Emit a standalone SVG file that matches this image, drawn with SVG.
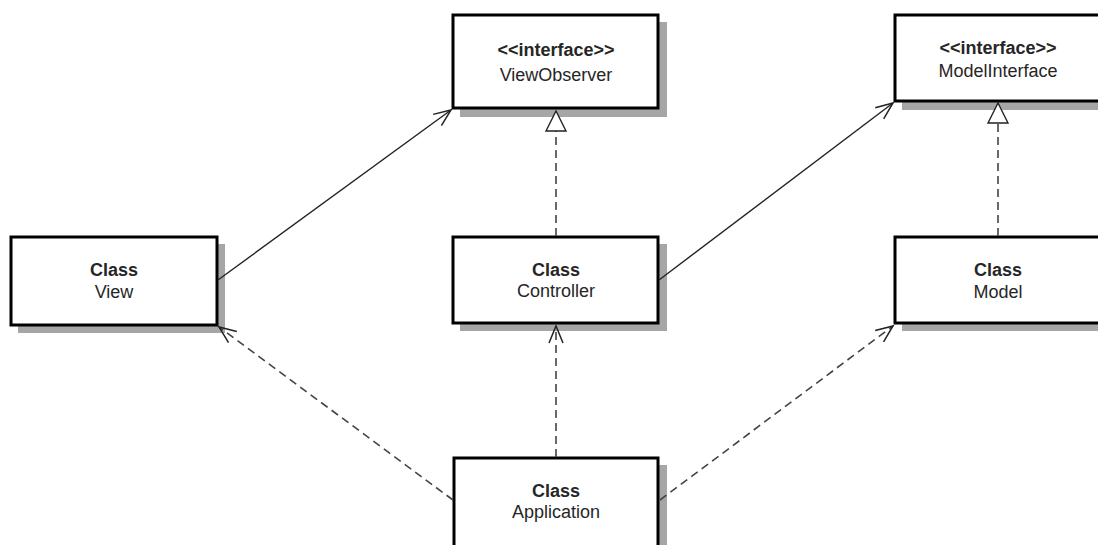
<svg xmlns="http://www.w3.org/2000/svg" width="1098" height="545" viewBox="0 0 1098 545">
  <style>
    .shadow { fill: #a6a6a6; }
    .box { fill: #ffffff; stroke: #000000; stroke-width: 3; }
    .t { font-family: "Liberation Sans", Arial, sans-serif; font-size: 18px; fill: #262626; text-anchor: middle; }
    .b { font-weight: bold; }
    .solid { stroke: #222222; stroke-width: 1.4; fill: none; }
    .dash { stroke: #444444; stroke-width: 1.6; fill: none; stroke-dasharray: 8 5; }
    .tri { fill: #ffffff; stroke: #222222; stroke-width: 1.4; }
  </style>
  <defs>
    <marker id="open" markerUnits="userSpaceOnUse" markerWidth="22" markerHeight="18" refX="18" refY="8" orient="auto">
      <path d="M1,1 L18,8 L1,15" fill="none" stroke="#222222" stroke-width="1.5"/>
    </marker>
  </defs>

  <rect width="1098" height="545" fill="#ffffff"/>

  <g id="viewobserver">
    <rect class="shadow" x="460" y="22" width="207" height="95"/>
    <rect class="box" x="453" y="15" width="205" height="93"/>
    <text class="t b" x="556" y="56">&lt;&lt;interface&gt;&gt;</text>
    <text class="t" x="556" y="81">ViewObserver</text>
  </g>

  <g id="modelinterface">
    <rect class="shadow" x="902" y="22" width="207" height="88"/>
    <rect class="box" x="895" y="15" width="205" height="86"/>
    <text class="t b" x="998" y="54">&lt;&lt;interface&gt;&gt;</text>
    <text class="t" x="998" y="77">ModelInterface</text>
  </g>

  <g id="view">
    <rect class="shadow" x="18" y="244" width="207" height="89"/>
    <rect class="box" x="11" y="237" width="206" height="88"/>
    <text class="t b" x="114" y="276">Class</text>
    <text class="t" x="114" y="298">View</text>
  </g>

  <g id="controller">
    <rect class="shadow" x="460" y="244" width="207" height="87"/>
    <rect class="box" x="453" y="237" width="205" height="86"/>
    <text class="t b" x="556" y="276">Class</text>
    <text class="t" x="556" y="297">Controller</text>
  </g>

  <g id="model">
    <rect class="shadow" x="902" y="244" width="207" height="87"/>
    <rect class="box" x="895" y="237" width="205" height="86"/>
    <text class="t b" x="998" y="276">Class</text>
    <text class="t" x="998" y="298">Model</text>
  </g>

  <g id="application">
    <rect class="shadow" x="461" y="465" width="206" height="100"/>
    <rect class="box" x="454" y="458" width="204" height="100"/>
    <text class="t b" x="556" y="497">Class</text>
    <text class="t" x="556" y="518">Application</text>
  </g>

  <!-- associations, realizations and dependencies, drawn over the box shadows -->
  <g id="connectors">
    <line class="solid" x1="218" y1="280" x2="451" y2="110" marker-end="url(#open)"/>
    <line class="dash" x1="556" y1="236" x2="556" y2="131"/>
    <polygon class="tri" points="556,111 546,131 566,131"/>
    <line class="solid" x1="659" y1="280" x2="893" y2="103" marker-end="url(#open)"/>
    <line class="dash" x1="998" y1="236" x2="998" y2="123"/>
    <polygon class="tri" points="998,103 988,123 1008,123"/>
    <line class="dash" x1="453" y1="500" x2="219" y2="327" marker-end="url(#open)"/>
    <line class="dash" x1="556" y1="457" x2="556" y2="326" marker-end="url(#open)"/>
    <line class="dash" x1="660" y1="500" x2="893" y2="326" marker-end="url(#open)"/>
  </g>
</svg>
